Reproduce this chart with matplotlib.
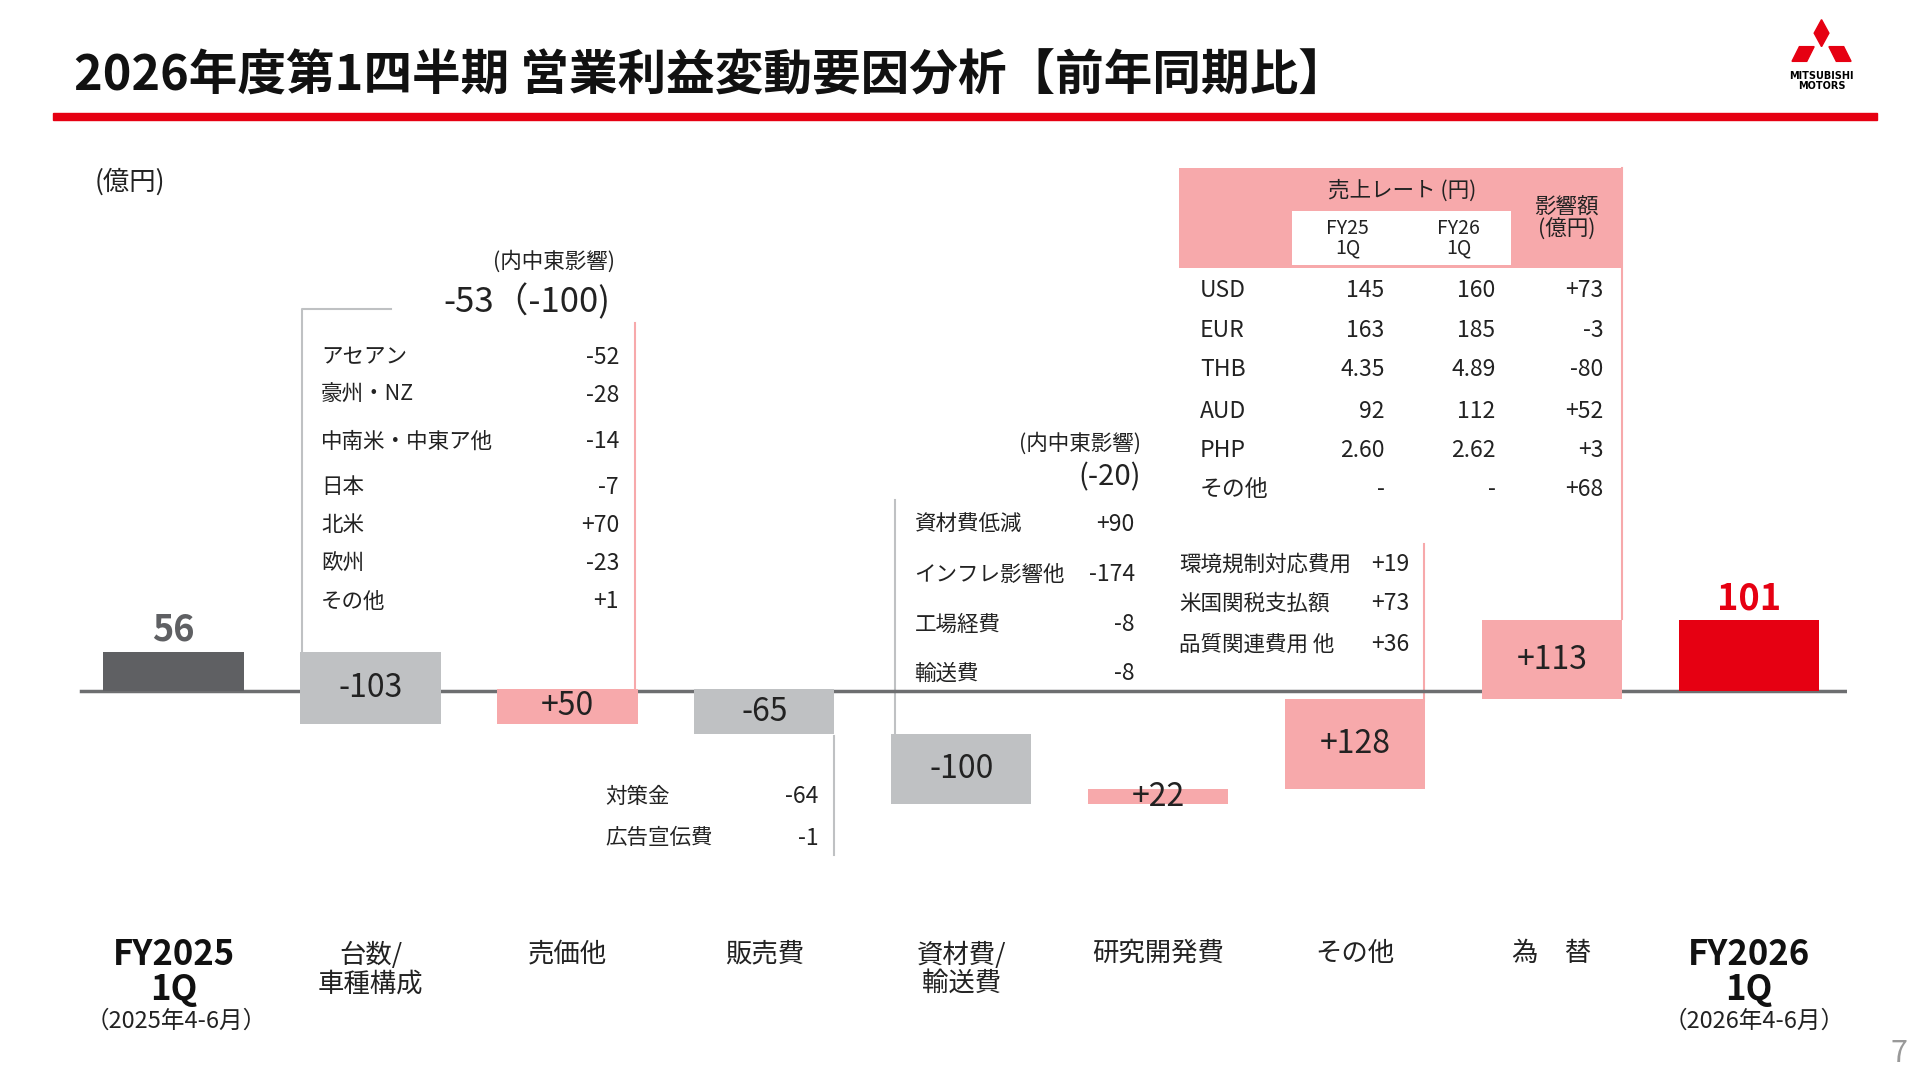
import matplotlib.pyplot as plt
from matplotlib.patches import Rectangle, Polygon

plt.rcParams['font.family'] = ['Noto Sans CJK JP', 'DejaVu Sans']

# data (億円)
categories = ['FY2025\n1Q', '台数/\n車種構成', '売価他', '販売費', '資材費/\n輸送費',
              '研究開発費', 'その他', '為　替', 'FY2026\n1Q']
start_value = 56
deltas = [-103, 50, -65, -100, 22, 128, 113]
end_value = 101
delta_labels = ['-103', '+50', '-65', '-100', '+22', '+128', '+113']

volume_items = ['アセアン', '豪州・NZ', '中南米・中東ア他', '日本', '北米', '欧州', 'その他']
volume_values = ['-52', '-28', '-14', '-7', '+70', '-23', '+1']
selling_items = ['対策金', '広告宣伝費']
selling_values = ['-64', '-1']
material_items = ['資材費低減', 'インフレ影響他', '工場経費', '輸送費']
material_values = ['+90', '-174', '-8', '-8']
other_items = ['環境規制対応費用', '米国関税支払額', '品質関連費用 他']
other_values = ['+19', '+73', '+36']
fx_ccy = ['USD', 'EUR', 'THB', 'AUD', 'PHP', 'その他']
fx_fy25 = ['145', '163', '4.35', '92', '2.60', '-']
fx_fy26 = ['160', '185', '4.89', '112', '2.62', '-']
fx_impact = ['+73', '-3', '-80', '+52', '+3', '+68']

RED = '#e60012'
PINK = '#f7a9ab'
LGRAY = '#bfc1c3'
DGRAY = '#5f6063'
TXT = '#222222'

W, H = 1560, 880
fig = plt.figure(figsize=(19.2, 10.8), dpi=100)

# waterfall axes: x index -0.5..8.5 -> px 61..1501, y -300..300 -> px 734..392
ax = fig.add_axes([61 / W, 1 - 734 / H, 1440 / W, 342 / H])
ax.set_xlim(-0.5, 8.5)
ax.set_ylim(-300, 300)
ax.axis('off')
bw = 114 / 160
ax.bar(0, start_value, width=bw, color=DGRAY)
level = start_value
for i, d in enumerate(deltas):
    col = PINK if d > 0 else LGRAY
    ax.bar(i + 1, d, bottom=level, width=bw, color=col)
    ax.text(i + 1, level + d / 2, delta_labels[i], ha='center', va='center', fontsize=23, color=TXT)
    level += d
ax.bar(8, end_value, width=bw, color=RED)
ax.text(0, start_value + 4, str(start_value), ha='center', va='bottom', fontsize=26,
        fontweight='bold', color=DGRAY)
ax.text(8, end_value + 4, str(end_value), ha='center', va='bottom', fontsize=26,
        fontweight='bold', color=RED)
ax.plot([-0.47, 8.5], [0, 0], color='#6d6e70', lw=2.5, zorder=0)

# overlay in reference pixel coords for annotations
ov = fig.add_axes([0, 0, 1, 1], zorder=-1)
ov.set_xlim(0, W)
ov.set_ylim(H, 0)
ov.axis('off')
ov2 = fig.add_axes([0, 0, 1, 1], zorder=5)
ov2.set_xlim(0, W)
ov2.set_ylim(H, 0)
ov2.axis('off')
ov2.patch.set_alpha(0)

ov2.text(60, 62, '2026年度第1四半期 営業利益変動要因分析【前年同期比】', fontsize=35,
         fontweight='bold', va='center', color='#111111')
ov2.add_patch(Rectangle((43, 92), 1482, 6, color=RED))
# logo
for pts in [[(1480, 16), (1486, 27), (1480, 38), (1474, 27)],
            [(1474, 38), (1468, 50), (1456, 50), (1462, 38)],
            [(1486, 38), (1498, 38), (1504, 50), (1492, 50)]]:
    ov2.add_patch(Polygon(pts, color=RED))
ov2.text(1480, 66, 'MITSUBISHI\nMOTORS', ha='center', va='center', fontsize=7,
         fontweight='bold', linespacing=1.0, family='DejaVu Sans')

ov2.text(77, 148, '(億円)', fontsize=19, va='center', color=TXT)

fs = 15.5
# volume breakdown
ov.plot([318, 245, 245], [252, 252, 531], color=LGRAY, lw=1.5)
ov.plot([516, 516], [263, 563], color=PINK, lw=1.5)
ov2.text(450, 213, '(内中東影響)', ha='center', va='center', fontsize=fs, color=TXT)
ov2.text(428, 246, '-53（-100)', ha='center', va='center', fontsize=25, color=TXT)
for y, n, v in zip([291, 322, 360, 397, 428, 459, 490], volume_items, volume_values):
    ov2.text(261, y, n, va='center', fontsize=fs, color=TXT)
    ov2.text(503, y, v, va='center', ha='right', fontsize=fs + 1, color=TXT)

# selling
ov.plot([678, 678], [600, 697], color=LGRAY, lw=1.5)
for y, n, v in zip([649, 683], selling_items, selling_values):
    ov2.text(492, y, n, va='center', fontsize=fs, color=TXT)
    ov2.text(665, y, v, va='center', ha='right', fontsize=fs + 1, color=TXT)

# materials
ov.plot([727, 727], [407, 600], color=LGRAY, lw=1.5)
ov2.text(927, 361, '(内中東影響)', ha='right', va='center', fontsize=fs, color=TXT)
ov2.text(927, 389, '(-20)', ha='right', va='center', fontsize=21, color=TXT)
for y, n, v in zip([427, 468, 509, 549], material_items, material_values):
    ov2.text(743, y, n, va='center', fontsize=fs, color=TXT)
    ov2.text(922, y, v, va='center', ha='right', fontsize=fs + 1, color=TXT)

# other
ov.plot([1157, 1157], [443, 571], color=PINK, lw=1.5)
for y, n, v in zip([460, 492, 525], other_items, other_values):
    ov2.text(958, y, n, va='center', fontsize=fs, color=TXT)
    ov2.text(1145, y, v, va='center', ha='right', fontsize=fs + 1, color=TXT)

# fx table
ov.add_patch(Rectangle((958, 137), 360, 81, color=PINK, lw=0))
ov.add_patch(Rectangle((1050, 172), 178, 44, color='white', lw=0))
ov.plot([1318, 1318], [137, 504], color=PINK, lw=1.5)
ov2.text(1139, 155, '売上レート (円)', ha='center', va='center', fontsize=15.5, color=TXT)
ov2.text(1095, 194, 'FY25\n1Q', ha='center', va='center', fontsize=14, linespacing=0.9, color=TXT)
ov2.text(1185, 194, 'FY26\n1Q', ha='center', va='center', fontsize=14, linespacing=0.9, color=TXT)
ov2.text(1273, 178, '影響額\n(億円)', ha='center', va='center', fontsize=15.5, linespacing=1.0, color=TXT)
for y, c, a, b, v in zip([237, 269, 301, 335, 367, 399], fx_ccy, fx_fy25, fx_fy26, fx_impact):
    ov2.text(975, y, c, va='center', fontsize=16.5, color=TXT)
    ov2.text(1125, y, a, va='center', ha='right', fontsize=16.5, color=TXT)
    ov2.text(1215, y, b, va='center', ha='right', fontsize=16.5, color=TXT)
    ov2.text(1303, y, v, va='center', ha='right', fontsize=16.5, color=TXT)

# category labels
for i, c in enumerate(categories):
    xp = 141 + 160 * i
    if c.startswith('FY'):
        ov2.text(xp, 792, c, ha='center', va='center', fontsize=25, fontweight='bold',
                 linespacing=1.0, color='#111111')
    else:
        ov2.text(xp, 790 if '\n' in c else 777, c, ha='center', va='center', fontsize=19,
                 linespacing=1.05, color=TXT)
ov2.text(143, 832, '（2025年4-6月）', ha='center', va='center', fontsize=17, color=TXT)
ov2.text(1425, 832, '（2026年4-6月）', ha='center', va='center', fontsize=17, color=TXT)
ov2.text(1543, 858, '7', ha='center', va='center', fontsize=22, color='#999999')

fig.savefig('out.png', dpi=100)
